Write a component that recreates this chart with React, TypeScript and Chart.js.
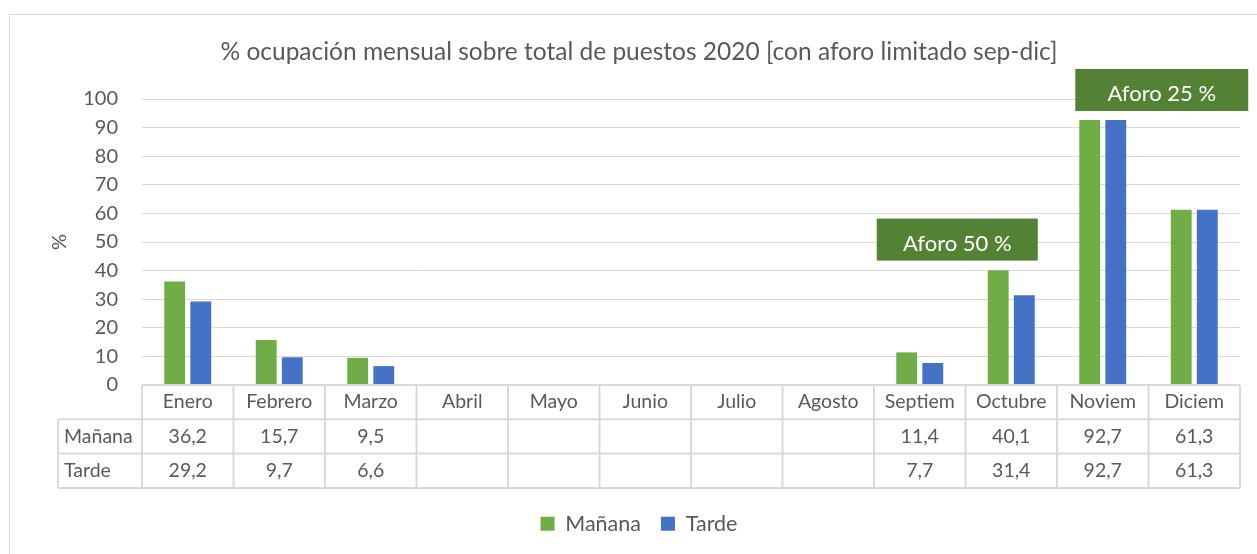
import { useEffect, useRef } from "react";
import { Chart, registerables } from "chart.js";

Chart.register(...registerables);

const titleText = "% ocupación mensual sobre total de puestos 2020 [con aforo limitado sep-dic]";
const categories = ["Enero", "Febrero", "Marzo", "Abril", "Mayo", "Junio", "Julio", "Agosto", "Septiem", "Octubre", "Noviem", "Diciem"];
const seriesNames = ["Mañana", "Tarde"];
const manana: (number | null)[] = [36.2, 15.7, 9.5, null, null, null, null, null, 11.4, 40.1, 92.7, 61.3];
const tarde: (number | null)[] = [29.2, 9.7, 6.6, null, null, null, null, null, 7.7, 31.4, 92.7, 61.3];
const seriesColors = ["#70AD47", "#4472C4"];
const yMin = 0;
const yMax = 100;
const yStep = 10;
const yTitle = "%";
const annotationLabels = ["Aforo 50 %", "Aforo 25 %"];
// [start, end] in category-index units, [top, bottom] in value units
const annotationX = [[7.53, 9.29], [9.7, 11.59]];
const annotationY = [[58.2, 43.5], [110.5, 95.8]];

const TEXT = "#595959";
const LINE = "#d9d9d9";
const FONT = "Lato, 'Open Sans', sans-serif";

const fmt = (v: number | null) => (v == null ? "" : v.toFixed(1).replace(".", ","));

const tablePlugin = {
  id: "dataTable",
  afterDraw(chart: any) {
    const { ctx, chartArea, scales } = chart;
    const x = scales.x;
    const top = chartArea.bottom;
    const rowH = 34.3;
    const labelLeft = 48;
    const n = categories.length;
    const left = x.getPixelForValue(-0.5);
    const right = x.getPixelForValue(n - 0.5);
    ctx.save();
    ctx.strokeStyle = LINE;
    ctx.lineWidth = 2;
    ctx.beginPath();
    ctx.moveTo(left, top);
    ctx.lineTo(right, top);
    for (let r = 1; r <= 3; r++) {
      const yy = top + r * rowH;
      ctx.moveTo(labelLeft, yy);
      ctx.lineTo(right, yy);
    }
    for (let i = 0; i <= n; i++) {
      const xx = x.getPixelForValue(i - 0.5);
      ctx.moveTo(xx, top);
      ctx.lineTo(xx, top + 3 * rowH);
    }
    ctx.moveTo(labelLeft, top + rowH);
    ctx.lineTo(labelLeft, top + 3 * rowH);
    ctx.stroke();

    ctx.fillStyle = TEXT;
    ctx.font = `19.5px ${FONT}`;
    ctx.textBaseline = "middle";
    ctx.textAlign = "center";
    const rows = [manana, tarde];
    for (let i = 0; i < n; i++) {
      const cx = x.getPixelForValue(i);
      ctx.fillText(categories[i], cx, top + rowH * 0.5);
      rows.forEach((row, r) => {
        ctx.fillText(fmt(row[i]), cx, top + rowH * (r + 1.5));
      });
    }
    ctx.textAlign = "left";
    seriesNames.forEach((name, r) => {
      ctx.fillText(name, labelLeft + 6, top + rowH * (r + 1.5));
    });
    ctx.restore();
  },
};

const annotationPlugin = {
  id: "aforoBoxes",
  afterDraw(chart: any) {
    const { ctx, scales } = chart;
    const x = scales.x;
    const y = scales.y;
    ctx.save();
    annotationLabels.forEach((label, i) => {
      const x0 = x.getPixelForValue(annotationX[i][0]);
      const x1 = x.getPixelForValue(annotationX[i][1]);
      const y0 = y.getPixelForValue(annotationY[i][0]);
      const y1 = y.getPixelForValue(annotationY[i][1]);
      ctx.fillStyle = "#548235";
      ctx.fillRect(x0, y0, x1 - x0, y1 - y0);
      ctx.fillStyle = "#ffffff";
      ctx.font = `22px ${FONT}`;
      ctx.textAlign = "center";
      ctx.textBaseline = "middle";
      ctx.fillText(label, (x0 + x1) / 2, (y0 + y1) / 2 + 4);
    });
    ctx.restore();
  },
};

export default function App() {
  const ref = useRef<HTMLCanvasElement>(null);
  useEffect(() => {
    if (!ref.current) return;
    Chart.defaults.font.family = FONT;
    Chart.defaults.color = TEXT;
    const chart = new Chart(ref.current, {
      type: "bar",
      data: {
        labels: categories,
        datasets: [
          { label: seriesNames[0], data: manana, backgroundColor: seriesColors[0], barPercentage: 0.8, categoryPercentage: 0.57 },
          { label: seriesNames[1], data: tarde, backgroundColor: seriesColors[1], barPercentage: 0.8, categoryPercentage: 0.57 },
        ],
      },
      options: {
        animation: false,
        responsive: true,
        maintainAspectRatio: false,
        layout: { padding: { left: 28, right: 17, top: 0, bottom: 9.5 } },
        plugins: {
          title: {
            display: true,
            text: titleText,
            color: TEXT,
            font: { size: 24.5, weight: "normal", family: FONT },
            padding: { top: 22.3, bottom: 32.3 },
          },
          legend: {
            position: "bottom",
            labels: {
              color: TEXT,
              font: { size: 21.5, family: FONT },
              boxWidth: 14,
              boxHeight: 14,
              padding: 20,
            },
          },
          tooltip: { enabled: false },
        },
        scales: {
          x: {
            grid: { display: false },
            border: { display: false },
            ticks: { display: false },
            afterFit: (s: any) => {
              s.height = 108;
            },
          },
          y: {
            min: yMin,
            max: yMax,
            ticks: { stepSize: yStep, color: TEXT, font: { size: 20, family: FONT }, padding: 24 },
            grid: { color: LINE, lineWidth: 1, drawTicks: false },
            border: { display: false },
            title: {
              display: true,
              text: yTitle,
              color: TEXT,
              font: { size: 20, family: FONT },
              padding: { top: 10, bottom: 0 },
            },
            afterFit: (s: any) => {
              s.width = 104;
            },
          },
        },
      },
      plugins: [tablePlugin, annotationPlugin],
    });
    return () => chart.destroy();
  }, []);

  return (
    <div
      style={{
        position: "absolute",
        left: 9,
        top: 14,
        width: 1248,
        height: 540,
        boxSizing: "border-box",
        borderLeft: `1px solid ${LINE}`,
        borderTop: `1px solid ${LINE}`,
        background: "#fff",
      }}
    >
      <div style={{ position: "relative", width: "100%", height: "100%" }}>
        <canvas ref={ref} />
      </div>
    </div>
  );
}
